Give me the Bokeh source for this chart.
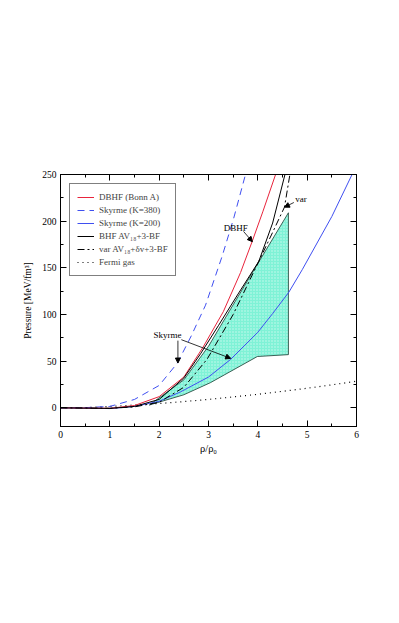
from bokeh.plotting import figure
from bokeh.models import (Range1d, LinearAxis, Legend, LegendItem, Arrow, NormalHead,
                          Label, SingleIntervalTicker)
from bokeh.embed import file_html
from bokeh.resources import INLINE

# ---- data ----
dbhf_x = [0, 0.5, 1, 1.5, 2, 2.5, 2.89, 3.3, 3.65, 3.89, 4.1, 4.36]
dbhf_p = [0, -0.3, -0.5, 2.5, 12, 33, 65, 103, 145, 179, 210, 250]

k380_x = [0, 0.5, 1, 1.5, 2, 2.37, 2.65, 2.94, 3.28, 3.51, 3.75]
k380_p = [0, 0.2, 1.5, 9, 24, 48, 77, 110, 163, 203, 250]

k200_x = [0, 0.5, 1, 1.5, 2, 2.43, 3, 3.45, 4, 4.3, 4.63, 4.9, 5.5, 5.91, 6]
k200_p = [0, -0.3, -0.8, 1.5, 7, 17, 33, 52, 81, 101, 124, 148, 205, 250, 260]

bhf_x = [0, 0.5, 1, 1.5, 2, 2.5, 2.84, 3.2, 3.6, 4.02, 4.3, 4.55]
bhf_p = [0, -0.3, -0.6, 1.5, 9, 32, 58, 88, 122, 157, 198, 250]

var_x = [0, 0.5, 1, 1.5, 2, 2.5, 2.97, 3.5, 4.02, 4.3, 4.54, 4.65]
var_p = [0, -0.2, -0.5, 1, 6, 22, 52, 100, 157, 188, 215, 250]

fermi_x = [0, 0.5, 1, 1.5, 2, 2.5, 3, 3.5, 4, 4.5, 5, 5.5, 6]
fermi_p = [0, 0.3, 1.5, 3, 4.6, 6.7, 9, 11.7, 14.5, 17.7, 21, 24.6, 28.5]

region_x = [1.8, 2.5, 3.0, 3.45, 3.89, 4.62, 4.62, 3.99, 3.04, 2.5, 1.8]
region_p = [3, 30, 66, 106, 145, 209, 57, 55, 27, 14, 3]

legend_labels = ["DBHF (Bonn A)", "Skyrme (K=380)", "Skyrme (K=200)",
                 "BHF AV\u2081\u2088+3-BF", "var AV\u2081\u2088+\u03b4v+3-BF", "Fermi gas"]

note_text = ["DBHF", "var", "Skyrme"]
note_x = [3.31, 4.76, 1.885]
note_p = [193, 224, 77.6]

arrow_x0 = [3.71, 4.73, 2.38, 2.45]
arrow_p0 = [189, 220, 72, 73]
arrow_x1 = [3.89, 4.54, 2.38, 3.45]
arrow_p1 = [178, 215, 48, 53]

FONT = "Liberation Serif"
BLUE = "#3f4ff0"
RED = "#e8243c"

p = figure(width=390, height=615, x_range=Range1d(0, 6), y_range=Range1d(-20, 250),
           output_backend="svg", toolbar_location=None,
           min_border_left=60, min_border_top=174, min_border_right=34, min_border_bottom=189)
p.xgrid.visible = False
p.ygrid.visible = False
p.outline_line_color = "black"
p.background_fill_color = "white"
p.border_fill_color = "white"

p.patch(region_x, region_p, fill_color="#7ff2d6", line_color="#1a3a30", line_width=0.8,
        hatch_pattern="dot", hatch_color="white", hatch_scale=3, hatch_weight=1, hatch_alpha=0.6)

r_fermi = p.line(fermi_x, fermi_p, line_color="black", line_width=1.2, line_dash="1 4")
r_k200 = p.line(k200_x, k200_p, line_color=BLUE, line_width=1)
r_k380 = p.line(k380_x, k380_p, line_color=BLUE, line_width=1, line_dash="7 5")
r_dbhf = p.line(dbhf_x, dbhf_p, line_color=RED, line_width=1)
r_var = p.line(var_x, var_p, line_color="black", line_width=1, line_dash="7 3 2 3")
r_bhf = p.line(bhf_x, bhf_p, line_color="black", line_width=1)

bottom = p.below[0]
left = p.left[0]
bottom.ticker = SingleIntervalTicker(interval=1, num_minor_ticks=2)
left.ticker = SingleIntervalTicker(interval=50, num_minor_ticks=2)
top = LinearAxis(ticker=SingleIntervalTicker(interval=1, num_minor_ticks=2),
                 major_label_text_alpha=0, major_label_text_font_size="1px",
                 major_label_standoff=0)
right = LinearAxis(ticker=SingleIntervalTicker(interval=50, num_minor_ticks=2),
                   major_label_text_alpha=0, major_label_text_font_size="1px",
                   major_label_standoff=0)
p.add_layout(top, "above")
p.add_layout(right, "right")

for ax in [bottom, left, top, right]:
    ax.major_tick_in = 6
    ax.major_tick_out = 0
    ax.minor_tick_in = 3
    ax.minor_tick_out = 0
    ax.axis_line_color = "black"
    ax.major_tick_line_color = "black"
    ax.minor_tick_line_color = "black"
    ax.major_label_text_font = FONT
    ax.axis_label_text_font = FONT
    ax.axis_label_text_font_style = "normal"
    ax.axis_label_text_color = "black"

for ax in [bottom, left]:
    ax.major_label_text_font_size = "9.5px"
    ax.major_label_text_color = "black"
    ax.major_label_standoff = 4

bottom.axis_label = "\u03c1/\u03c1\u2080"
bottom.axis_label_text_font_size = "10.5px"
bottom.axis_label_standoff = 2
left.axis_label = "Pressure [MeV/fm\u00b3]"
left.axis_label_text_font_size = "9.5px"
left.axis_label_standoff = 6

renderers = [r_dbhf, r_k380, r_k200, r_bhf, r_var, r_fermi]
items = [LegendItem(label=lab, renderers=[r]) for lab, r in zip(legend_labels, renderers)]
legend = Legend(items=items, location="top_left", margin=9, padding=7,
                label_text_font=FONT, label_text_font_size="9px",
                glyph_width=17, glyph_height=12, label_height=12, spacing=1,
                label_standoff=5, border_line_color="black", border_line_width=1,
                background_fill_color="white", background_fill_alpha=1)
p.add_layout(legend)

for t, x, y in zip(note_text, note_x, note_p):
    p.add_layout(Label(x=x, y=y, text=t, text_font=FONT, text_font_size="9px",
                       text_baseline="middle", text_align="left", text_color="black"))

for x0, y0, x1, y1 in zip(arrow_x0, arrow_p0, arrow_x1, arrow_p1):
    p.add_layout(Arrow(end=NormalHead(size=5, fill_color="black", line_color="black"),
                       x_start=x0, y_start=y0, x_end=x1, y_end=y1,
                       line_color="black", line_width=0.8))

open("out.html", "w").write(file_html(p, INLINE))
